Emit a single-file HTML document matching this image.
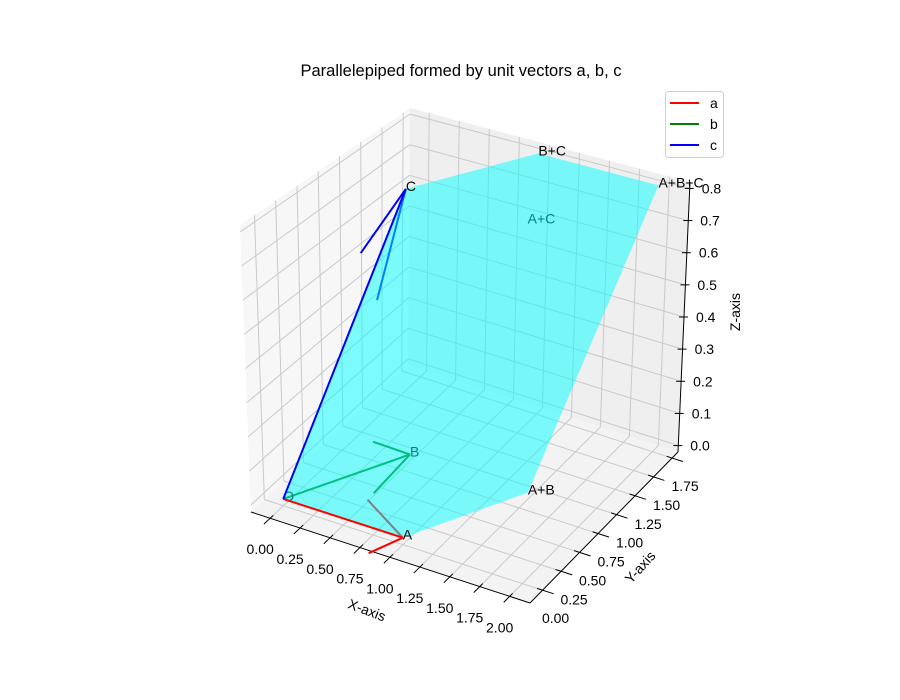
<!DOCTYPE html>
<html><head><meta charset="utf-8">
<style>
html,body{margin:0;padding:0;background:#fff;}
svg{display:block;font-family:"Liberation Sans","DejaVu Sans",sans-serif;}
</style></head>
<body>
<svg id="chart" width="900" height="700" viewBox="0 0 900 700">
<rect width="900" height="700" fill="#fff"/>
<text x="461" y="76" font-size="16.5" text-anchor="middle">Parallelepiped formed by unit vectors a, b, c</text>
<g id="axes3d"></g>
<g>
<rect x="665.5" y="91.5" width="58" height="66" rx="3" fill="#fff" fill-opacity="0.8" stroke="#d0d0d0"/>
<line x1="670" y1="103" x2="699" y2="103" stroke="#ff0000" stroke-width="2"/>
<text x="710" y="108" font-size="14">a</text>
<line x1="670" y1="124" x2="699" y2="124" stroke="#008000" stroke-width="2"/>
<text x="710" y="129" font-size="14">b</text>
<line x1="670" y1="145" x2="699" y2="145" stroke="#0000ff" stroke-width="2"/>
<text x="710" y="150" font-size="14">c</text>
</g>
</svg>
<script>
// ---- data ----
const vecA = [1, 0, 0];
const vecB = [0.5, 0.866, 0];
const vecC = [0.44, 0.92, 0.795];
const xTicks = [0, 0.25, 0.5, 0.75, 1.0, 1.25, 1.5, 1.75, 2.0];
const yTicks = [0, 0.25, 0.5, 0.75, 1.0, 1.25, 1.5, 1.75];
const zTicks = [0, 0.1, 0.2, 0.3, 0.4, 0.5, 0.6, 0.7, 0.8];
const xTickLabels = ["0.00","0.25","0.50","0.75","1.00","1.25","1.50","1.75","2.00"];
const yTickLabels = ["0.00","0.25","0.50","0.75","1.00","1.25","1.50","1.75"];
const zTickLabels = ["0.0","0.1","0.2","0.3","0.4","0.5","0.6","0.7","0.8"];
const xLim = [-0.16, 2.17];
const yLim = [-0.17, 1.83];
const zLim = [-0.02, 0.82];

const NS = "http://www.w3.org/2000/svg";
const root = document.getElementById('axes3d');

// ---- projection: bilinear floor + bilinear vertical vectors (approximates perspective) ----
const F00=[251,512], F10=[530,603], F11=[678,452], F01=[408,365];
const V00=[-11,-287], V10=[-1,-300], V11=[12,-270], V01=[2,-257];
function bil(a,b,c,d,u,v,i){return a[i]*(1-u)*(1-v)+b[i]*u*(1-v)+c[i]*u*v+d[i]*(1-u)*v;}
function P(x,y,z){
  const u=(x-xLim[0])/(xLim[1]-xLim[0]);
  const v=(y-yLim[0])/(yLim[1]-yLim[0]);
  const w=(z-zLim[0])/(zLim[1]-zLim[0]);
  return [bil(F00,F10,F11,F01,u,v,0)+w*bil(V00,V10,V11,V01,u,v,0),
          bil(F00,F10,F11,F01,u,v,1)+w*bil(V00,V10,V11,V01,u,v,1)];
}
function cross(a,b){return [a[1]*b[2]-a[2]*b[1], a[2]*b[0]-a[0]*b[2], a[0]*b[1]-a[1]*b[0]];}
function dot(a,b){return a[0]*b[0]+a[1]*b[1]+a[2]*b[2];}

function mk(tag, attrs, parent){const e=document.createElementNS(NS,tag);for(const k in attrs)e.setAttribute(k,attrs[k]);(parent||root).appendChild(e);return e;}
function line3(a,b,stroke,w,name){
  const p=P(...a), q=P(...b);
  const e=mk('line',{x1:p[0],y1:p[1],x2:q[0],y2:q[1],stroke:stroke,'stroke-width':w});
  
  
  return e;
}
function poly3(pts,fill,name){
  const s=pts.map(p=>P(...p).join(',')).join(' ');
  const e=mk('polygon',{points:s,fill:fill});
  
  
  return e;
}
function text2(x,y,str,attrs,name){
  const e=mk('text',Object.assign({x:x,y:y,'font-size':14},attrs));
  e.textContent=str;
  
  
  return e;
}
const [x0,x1]=xLim,[y0,y1]=yLim,[z0,z1]=zLim;
poly3([[x0,y0,z0],[x0,y1,z0],[x0,y1,z1],[x0,y0,z1]],'#f7f7f7','pane-yz');
poly3([[x0,y1,z0],[x1,y1,z0],[x1,y1,z1],[x0,y1,z1]],'#efefef','pane-xz');
poly3([[x0,y0,z0],[x1,y0,z0],[x1,y1,z0],[x0,y1,z0]],'#f3f3f3','pane-xy');
const gc='#c9c9c9';
xTicks.forEach((t)=>{line3([t,y0,z0],[t,y1,z0],gc,1,'grid-x-floor');line3([t,y1,z0],[t,y1,z1],gc,1,'grid-x-back');});
yTicks.forEach((t)=>{line3([x0,t,z0],[x1,t,z0],gc,1,'grid-y-floor');line3([x0,t,z0],[x0,t,z1],gc,1,'grid-y-side');});
zTicks.forEach((t)=>{line3([x0,y0,t],[x0,y1,t],gc,1,'grid-z-side');line3([x0,y1,t],[x1,y1,t],gc,1,'grid-z-back');});
line3([x0,y0,z0],[x1,y0,z0],'#000',1,'x-axis-line');
line3([x1,y0,z0],[x1,y1,z0],'#000',1,'y-axis-line');
line3([x1,y1,z0],[x1,y1,z1],'#000',1,'z-axis-line');
const xr=x1-x0, yr=y1-y0;
xTicks.forEach((t,i)=>{
  line3([t,y0+0.02*yr,z0],[t,y0-0.04*yr,z0],'#000',1,'x-tick');
  const p=P(t,y0,z0);
  text2(p[0]-10,p[1]+36,xTickLabels[i],{'text-anchor':'middle'},'x-tick-label');
});
yTicks.forEach((t,i)=>{
  line3([x1-0.02*xr,t,z0],[x1+0.04*xr,t,z0],'#000',1,'y-tick');
  const p=P(x1,t,z0);
  text2(p[0]+13,p[1]+33,yTickLabels[i],{'text-anchor':'middle'},'y-tick-label');
});
zTicks.forEach((t,i)=>{
  const p=P(x1,y1,t);
  const e=mk('line',{x1:p[0]-5,y1:p[1],x2:p[0]+4,y2:p[1],stroke:'#000','stroke-width':1});
  
  
  text2(p[0]+12,p[1]+5,zTickLabels[i],{},'z-tick-label');
});
text2(367,615,'X-axis',{'text-anchor':'middle',transform:'rotate(21 367 610)'},'x-axis-title');
text2(640,572,'Y-axis',{'text-anchor':'middle',transform:'rotate(-48 640 567)'},'y-axis-title');
text2(740,312,'Z-axis',{'text-anchor':'middle',transform:'rotate(-90 740 312)'},'z-axis-title');

// ---- vectors ----
const O=[0,0,0];
const add=(p,q)=>[p[0]+q[0],p[1]+q[1],p[2]+q[2]];
function heads(v){
  const n=Math.hypot(v[0],v[1]);
  const k=[v[1]/n,-v[0]/n,0];
  const res=[];
  [1,-1].forEach(s=>{
    const th=s*15*Math.PI/180, c=Math.cos(th), sn=Math.sin(th);
    const kv=cross(k,v), kd=dot(k,v);
    const r=[0,1,2].map(i=>v[i]*c+kv[i]*sn+k[i]*kd*(1-c));
    res.push([v[0]-0.3*r[0],v[1]-0.3*r[1],v[2]-0.3*r[2]]);
  });
  return res;
}
const hA=heads(vecA), hB=heads(vecB), hC=heads(vecC);
const byY=(h)=>h.slice().sort((p,q)=>P(...p)[1]-P(...q)[1]);
const sA=byY(hA), sC=byY(hC);
const Ap=vecA, Bp=vecB, Cp=vecC;
const ABp=add(vecA,vecB), ACp=add(vecA,vecC), BCp=add(vecB,vecC), ABCp=add(ABp,vecC);
function label3(pt,str,color,name){const p=P(...pt);text2(p[0],p[1]+2,str,{fill:color},name);}
line3(O,Bp,'#008000',2,'vector-b-shaft');
line3(Bp,hB[0],'#008000',2,'vector-b-head');
line3(Bp,hB[1],'#008000',2,'vector-b-head');
line3(Ap,sA[0],'#ff0000',2,'vector-a-head');
line3(Cp,sC[1],'#0000ff',2,'vector-c-head');
label3(O,'O','#000','label-o');
label3(Bp,'B','#000','label-b');
label3(ACp,'A+C','#000','label-a-plus-c');
poly3([O,Ap,ABp,ABCp,BCp,Cp],'rgba(0,255,255,0.5)','parallelepiped-surface');
line3(O,Ap,'#ff0000',2,'vector-a-shaft');
line3(Ap,sA[1],'#ff0000',2,'vector-a-head');
line3(O,Cp,'#0000ff',2,'vector-c-shaft');
line3(Cp,sC[0],'#0000ff',2,'vector-c-head');
label3(Ap,'A','#000','label-a');
label3(Cp,'C','#000','label-c');
label3(ABp,'A+B','#000','label-a-plus-b');
label3(BCp,'B+C','#000','label-b-plus-c');
label3(ABCp,'A+B+C','#000','label-a-plus-b-plus-c');
</script>
</body></html>
